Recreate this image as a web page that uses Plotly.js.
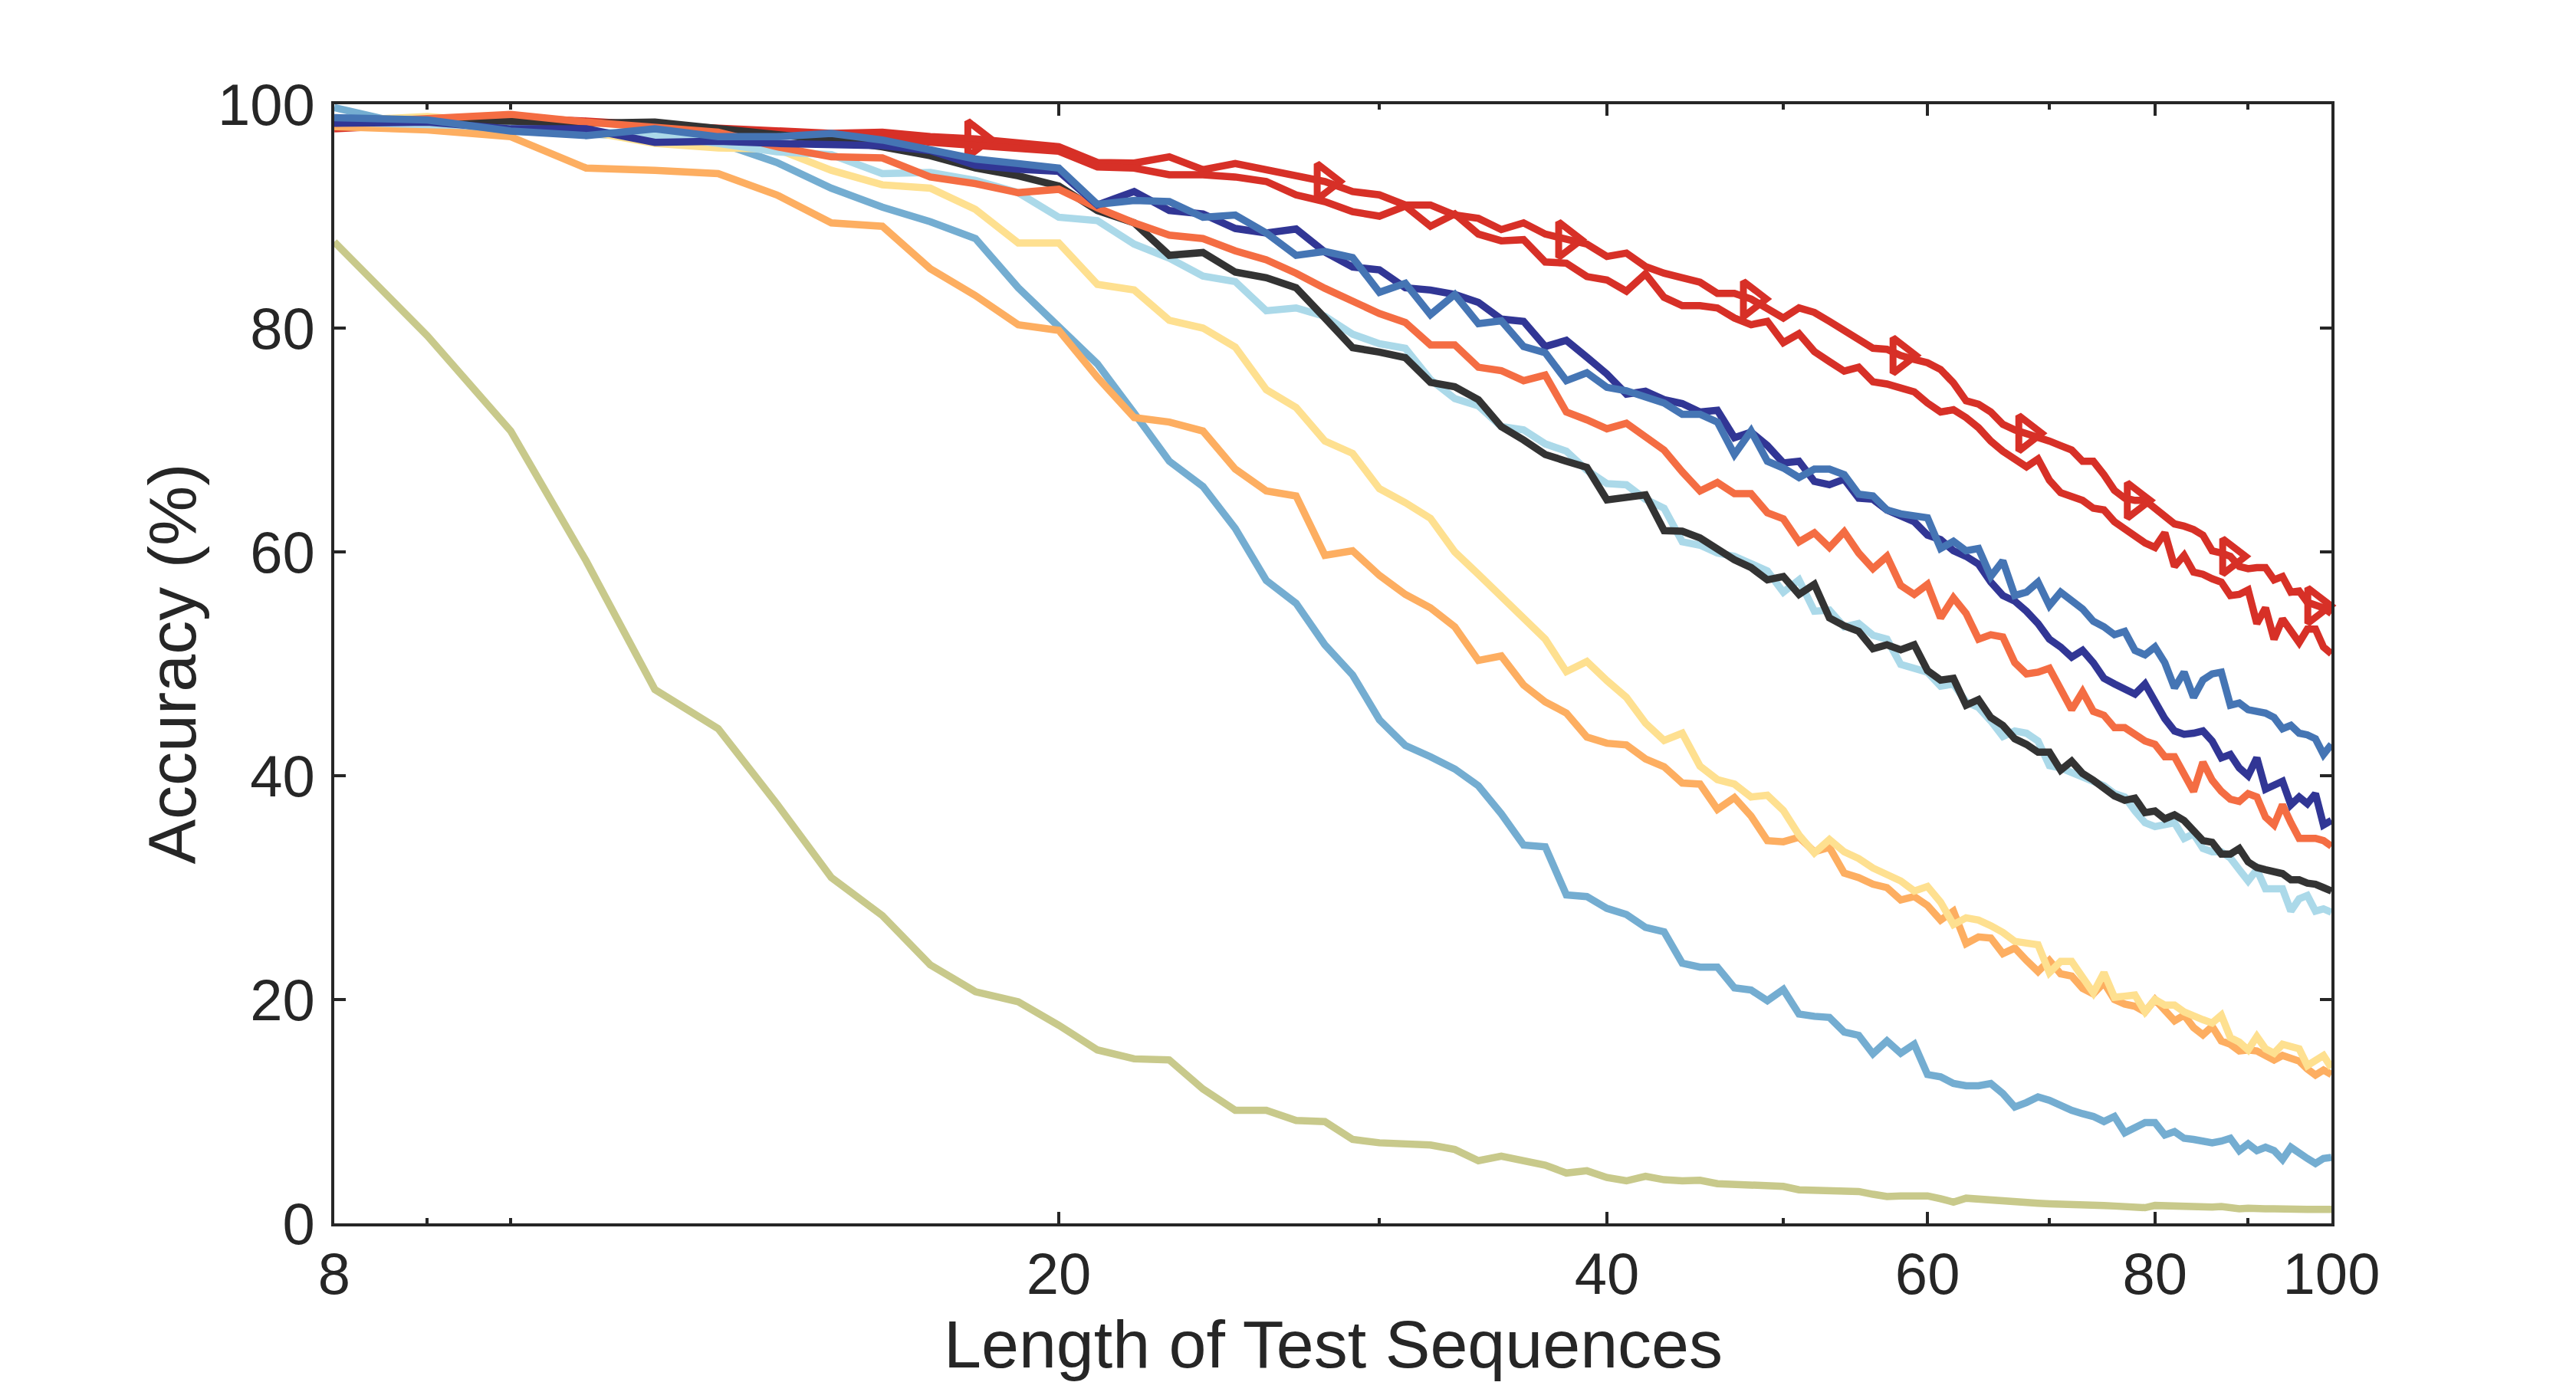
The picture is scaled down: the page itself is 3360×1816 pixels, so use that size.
<!DOCTYPE html>
<html>
<head>
<meta charset="utf-8">
<script src="https://cdn.plot.ly/plotly-3.0.1.min.js"></script>
<style>
  html, body { margin: 0; padding: 0; background: #ffffff; }
  #chart { width: 3360px; height: 1816px; }
</style>
</head>
<body>
<div id="chart"></div>
<script>
/* ─── Accuracy vs. test sequence length ─── */

// sequence lengths (x), one point per integer length
const lengths = [
    8, 9, 10, 11, 12, 13, 14, 15, 16, 17, 18, 19, 20, 21, 22, 23, 24, 25, 26, 27,
    28, 29, 30, 31, 32, 33, 34, 35, 36, 37, 38, 39, 40, 41, 42, 43, 44, 45, 46, 47,
    48, 49, 50, 51, 52, 53, 54, 55, 56, 57, 58, 59, 60, 61, 62, 63, 64, 65, 66, 67,
    68, 69, 70, 71, 72, 73, 74, 75, 76, 77, 78, 79, 80, 81, 82, 83, 84, 85, 86, 87,
    88, 89, 90, 91, 92, 93, 94, 95, 96, 97, 98, 99, 100,
];

// accuracy (%) per series, same order as lengths
const redMarked = [
    97.8, 98.3, 98.6, 98.4, 98.1, 97.9, 97.7, 97.4, 97.5, 97.1, 96.9, 96.6, 96.2, 94.8, 94.75, 95.3, 94.15, 94.7, 94.15, 93.6,
    93.1, 92.2, 91.9, 91.0, 91.0, 90.1, 89.8, 88.8, 89.4, 88.4, 87.9, 87.5, 86.4, 86.7, 85.5, 84.9, 84.5, 84.1, 83.1, 83.1,
    82.6, 81.75, 80.9, 81.8, 81.4, 80.6, 79.8, 79.0, 78.2, 78.1, 77.55, 77.2, 76.9, 76.3, 75.1, 73.5, 73.2, 72.5, 71.4, 70.9,
    70.6, 70.2, 69.9, 69.5, 69.1, 68.1, 68.1, 66.9, 65.5, 64.8, 64.6, 64.6, 63.9, 63.2, 62.5, 62.3, 62.0, 61.5, 60.1, 59.9,
    59.6, 58.7, 58.5, 58.6, 58.6, 57.5, 57.8, 56.4, 56.5, 55.5, 55.2, 55.0, 54.5,
];
const redPlain = [
    98.1, 98.5, 98.8, 98.5, 98.2, 97.8, 97.5, 97.3, 97.0, 96.6, 96.3, 96.1, 95.8, 94.4, 94.3, 93.7, 93.7, 93.5, 93.1, 91.9,
    91.3, 90.4, 90.0, 90.9, 89.1, 90.2, 88.4, 87.8, 87.9, 85.9, 85.8, 84.6, 84.3, 83.3, 84.85, 82.75, 82.0, 82.0, 81.8, 80.9,
    80.3, 80.6, 78.7, 79.5, 77.9, 77.0, 76.15, 76.5, 75.2, 75.0, 74.6, 74.3, 73.3, 72.5, 72.7, 72.0, 71.1, 69.9, 69.0, 68.3,
    67.6, 68.3, 66.4, 65.3, 65.0, 64.6, 63.9, 63.75, 62.7, 62.0, 61.5, 60.8, 60.4, 61.7, 58.7, 59.7, 58.2, 58.0, 57.6, 57.3,
    56.1, 56.2, 56.6, 53.6, 55.0, 52.2, 54.0, 52.9, 51.9, 53.1, 53.1, 51.5, 50.9,
];
const navy = [
    98.3, 98.4, 97.8, 97.8, 96.6, 96.7, 96.5, 96.4, 96.3, 95.85, 94.55, 94.2, 94.0, 91.0, 92.2, 90.5, 90.2, 88.9, 88.5, 88.85,
    86.8, 85.45, 85.2, 83.6, 83.4, 83.0, 82.3, 80.8, 80.6, 78.35, 78.9, 77.4, 75.9, 74.1, 74.35, 73.6, 73.25, 72.5, 72.65, 70.2,
    70.7, 69.5, 67.95, 68.1, 66.3, 66.0, 66.5, 64.8, 64.7, 63.75, 63.2, 62.7, 61.5, 61.1, 60.1, 59.6, 58.9, 57.3, 56.1, 55.6,
    54.7, 53.6, 52.2, 51.5, 50.6, 51.2, 50.1, 48.7, 48.2, 47.7, 47.3, 48.2, 46.6, 45.1, 44.0, 43.7, 43.8, 44.0, 43.1, 41.6,
    41.9, 40.7, 40.0, 41.6, 38.8, 39.1, 39.5, 37.4, 38.1, 37.5, 38.4, 35.6, 36.0,
];
const blue = [
    98.8, 98.6, 97.6, 97.2, 97.8, 97.1, 97.1, 97.4, 96.8, 95.85, 95.1, 94.7, 94.3, 91.05, 91.4, 91.3, 89.9, 90.1, 88.5, 86.5,
    86.85, 86.3, 83.2, 84.0, 81.2, 83.0, 80.4, 80.65, 78.35, 77.8, 75.3, 76.0, 74.7, 74.4, 73.85, 73.3, 72.3, 72.3, 71.6, 68.7,
    70.8, 68.1, 67.5, 66.65, 67.4, 67.4, 66.9, 65.15, 65.0, 63.75, 63.4, 63.2, 63.05, 60.3, 60.95, 60.1, 60.3, 57.8, 59.2, 56.1,
    56.4, 57.3, 55.2, 56.4, 55.7, 54.9, 53.8, 53.3, 52.6, 52.9, 51.2, 50.8, 51.5, 50.1, 47.85, 49.25, 47.0, 48.55, 49.1, 49.25,
    46.3, 46.5, 45.9, 45.8, 45.6, 45.2, 44.2, 44.5, 43.8, 43.65, 43.3, 41.9, 42.8,
];
const orangeRed = [
    98.3, 98.8, 99.1, 98.4, 98.0, 97.5, 96.2, 95.3, 95.2, 93.5, 92.9, 92.1, 92.4, 90.75, 89.4, 88.3, 88.0, 86.9, 86.1, 84.9,
    83.55, 82.45, 81.3, 80.5, 78.5, 78.5, 76.5, 76.2, 75.3, 75.8, 72.5, 71.8, 71.0, 71.5, 70.2, 69.1, 67.15, 65.45, 66.2, 65.2,
    65.2, 63.5, 62.95, 60.9, 61.7, 60.4, 61.8, 59.9, 58.5, 59.6, 57.0, 56.2, 57.1, 54.1, 55.9, 54.5, 52.2, 52.6, 52.4, 50.1,
    49.1, 49.25, 49.6, 47.7, 45.9, 47.5, 45.75, 45.4, 44.3, 44.3, 43.65, 43.1, 42.8, 41.7, 41.7, 40.0, 38.6, 41.2, 39.6, 38.6,
    37.9, 37.7, 38.4, 38.1, 36.3, 35.6, 37.4, 35.8, 34.4, 34.4, 34.4, 34.2, 33.7,
];
const black = [
    98.5, 98.6, 98.5, 98.3, 98.4, 97.8, 97.4, 96.8, 96.2, 95.4, 94.3, 93.6, 92.7, 90.5, 89.4, 86.5, 86.75, 85.0, 84.5, 83.6,
    80.9, 78.25, 77.85, 77.35, 75.15, 74.75, 73.6, 71.2, 70.0, 68.7, 68.1, 67.55, 64.65, 64.8, 65.1, 61.9, 61.85, 61.25, 60.2, 59.3,
    58.6, 57.5, 57.8, 56.2, 57.1, 54.1, 53.4, 52.9, 51.35, 51.7, 51.25, 51.7, 49.4, 48.55, 48.7, 46.3, 46.8, 45.2, 44.5, 43.3,
    42.8, 42.1, 42.1, 40.5, 41.3, 40.2, 39.6, 38.8, 38.2, 37.8, 38.0, 36.7, 36.85, 36.15, 36.5, 36.0, 35.1, 34.2, 34.05, 33.0,
    33.0, 33.5, 32.3, 31.8, 31.6, 31.4, 31.25, 30.7, 30.7, 30.4, 30.3, 30.0, 29.7,
];
const lightBlue = [
    98.4, 98.2, 98.0, 97.6, 97.2, 96.5, 95.75, 95.5, 93.8, 93.9, 93.2, 92.1, 89.9, 89.6, 87.5, 86.25, 84.65, 84.15, 81.55, 81.8,
    81.05, 79.45, 78.6, 78.2, 75.4, 73.7, 73.05, 71.2, 70.9, 69.65, 69.0, 67.3, 66.1, 66.0, 64.7, 63.9, 60.9, 60.6, 59.9, 59.6,
    59.0, 58.3, 56.4, 57.5, 54.7, 54.8, 53.3, 53.6, 52.55, 52.2, 49.95, 49.6, 49.25, 48.0, 48.2, 46.6, 46.1, 44.9, 43.5, 44.0,
    43.8, 43.1, 40.9, 40.7, 40.3, 39.8, 39.5, 39.1, 38.4, 38.1, 36.85, 35.8, 35.45, 35.6, 35.8, 34.4, 34.8, 33.5, 33.2, 33.2,
    32.65, 31.6, 30.6, 31.6, 29.9, 29.9, 29.9, 27.9, 29.0, 29.3, 27.9, 28.1, 27.8,
];
const yellow = [
    98.5, 98.9, 98.3, 97.6, 96.5, 96.1, 96.0, 94.1, 92.8, 92.5, 90.6, 87.6, 87.6, 83.9, 83.4, 80.7, 80.0, 78.3, 74.5, 72.9,
    69.9, 68.8, 65.65, 64.4, 63.0, 60.0, 58.0, 56.0, 54.2, 52.2, 49.3, 50.2, 48.5, 47.0, 44.7, 43.15, 43.8, 40.85, 39.65, 39.25,
    38.1, 38.25, 36.9, 34.7, 33.1, 34.3, 33.2, 32.6, 31.75, 31.1, 30.6, 29.7, 30.1, 28.7, 26.7, 27.3, 27.1, 26.6, 26.0, 25.2,
    25.0, 24.9, 22.4, 23.4, 23.4, 21.9, 20.6, 22.4, 20.2, 20.3, 20.4, 18.9, 20.0, 19.5, 19.5, 18.9, 18.5, 18.2, 17.9, 18.6,
    16.6, 16.2, 15.5, 16.7, 15.6, 15.2, 16.0, 15.8, 15.6, 14.1, 14.6, 15.0, 13.9,
];
const orange = [
    98.0, 97.7, 97.1, 94.3, 94.1, 93.8, 91.9, 89.4, 89.1, 85.3, 82.9, 80.3, 79.8, 75.6, 72.0, 71.6, 70.8, 67.4, 65.45, 65.0,
    59.7, 60.1, 57.9, 56.2, 55.0, 53.3, 50.3, 50.7, 48.1, 46.6, 45.6, 43.45, 42.9, 42.75, 41.5, 40.8, 39.35, 39.25, 37.0, 38.05,
    36.4, 34.2, 34.1, 34.5, 33.2, 33.6, 31.3, 30.9, 30.3, 30.0, 28.9, 29.2, 28.4, 27.1, 27.9, 25.0, 25.6, 25.5, 24.1, 24.6,
    23.5, 22.5, 23.5, 22.3, 22.1, 21.0, 20.5, 21.5, 20.0, 19.6, 19.4, 18.9, 20.0, 19.0, 18.1, 18.6, 17.5, 16.85, 17.6, 16.3,
    16.0, 15.4, 15.5, 15.4, 15.0, 14.6, 15.0, 14.7, 14.5, 13.8, 13.25, 13.7, 13.3,
];
const steelBlue = [
    99.7, 97.8, 97.6, 97.3, 97.1, 96.6, 94.8, 92.5, 90.8, 89.5, 88.0, 83.6, 80.2, 76.8, 72.4, 68.1, 65.85, 62.1, 57.45, 55.4,
    51.7, 49.0, 45.0, 42.7, 41.7, 40.6, 39.1, 36.6, 33.8, 33.65, 29.35, 29.2, 28.15, 27.6, 26.45, 26.05, 23.25, 22.9, 22.9, 21.05,
    20.85, 19.9, 20.9, 18.7, 18.5, 18.4, 17.1, 16.8, 15.15, 16.3, 15.2, 16.0, 13.3, 13.1, 12.5, 12.3, 12.3, 12.5, 11.6, 10.4,
    10.8, 11.3, 11.0, 10.5, 10.1, 9.8, 9.55, 9.1, 9.55, 8.1, 8.6, 9.0, 9.0, 7.9, 8.2, 7.6, 7.5, 7.3, 7.2, 7.35,
    7.6, 6.5, 7.1, 6.5, 6.8, 6.5, 5.7, 6.8, 6.2, 5.8, 5.35, 5.8, 5.9,
];
const olive = [
    87.7, 79.3, 70.8, 59.2, 47.7, 44.2, 37.5, 30.9, 27.5, 23.1, 20.7, 19.8, 17.7, 15.5, 14.7, 14.6, 12.0, 10.1, 10.1, 9.2,
    9.1, 7.5, 7.2, 7.1, 7.0, 6.6, 5.6, 6.0, 5.6, 5.2, 4.5, 4.7, 4.1, 3.8, 4.2, 3.9, 3.8, 3.85, 3.55, 3.5,
    3.4, 3.5, 3.3, 3.0, 3.0, 3.0, 2.95, 2.85, 2.6, 2.4, 2.45, 2.4, 2.45, 2.2, 1.9, 2.25, 2.15, 2.1, 2.05, 1.9,
    1.9, 1.8, 1.75, 1.75, 1.75, 1.75, 1.65, 1.6, 1.55, 1.55, 1.55, 1.4, 1.6, 1.55, 1.55, 1.5, 1.5, 1.45, 1.45, 1.5,
    1.35, 1.3, 1.35, 1.4, 1.3, 1.3, 1.25, 1.25, 1.25, 1.25, 1.25, 1.25, 1.25,
];

// lengths that carry a marker on the marked red curve
const markerLengths = [8, 18, 28, 38, 48, 58, 68, 78, 88, 98];

const xTickVals = [8, 20, 40, 60, 80, 100];
const xMinorVals = [9, 10, 30, 50, 70, 90];
const yTickVals = [0, 20, 40, 60, 80, 100];

const AXIS_COLOR = '#262626';
const RED = '#D73027';
const FONT = '"Liberation Sans", Arial, Helvetica, sans-serif';

function lineTrace(y, color, name) {
    return {
        x: lengths,
        y: y,
        type: 'scatter',
        mode: 'lines',
        name: name,
        line: { color: color, width: 9.5 },
        cliponaxis: false,
        hoverinfo: 'skip',
    };
}

// markers for the marked red curve, picked from its own points
const markIdx = lengths.map((l, i) => markerLengths.includes(l) ? i : -1).filter(i => i >= 0);
const markerTrace = {
    x: markIdx.map(i => lengths[i]),
    y: markIdx.map(i => redMarked[i]),
    type: 'scatter',
    mode: 'markers',
    name: 'red markers',
    cliponaxis: false,
    hoverinfo: 'skip',
    marker: {
        symbol: 'triangle-right',
        size: 40,
        opacity: 1,
        color: 'rgba(215,48,39,0)',
        line: { color: RED, width: 9 },
    },
};

// matlab-style draw order: first plotted sits underneath
const traces = [
    lineTrace(redMarked, RED, 'red (marked)'),
    markerTrace,
    lineTrace(redPlain, RED, 'red'),
    lineTrace(olive, '#C8C98B', 'olive'),
    lineTrace(steelBlue, '#74ADD1', 'steel blue'),
    lineTrace(orange, '#FDAE61', 'orange'),
    lineTrace(yellow, '#FEE090', 'yellow'),
    lineTrace(lightBlue, '#ABD9E9', 'light blue'),
    lineTrace(black, '#333333', 'black'),
    lineTrace(orangeRed, '#F46D43', 'orange red'),
    lineTrace(navy, '#313695', 'navy'),
    lineTrace(blue, '#4575B4', 'blue'),
];

const layout = {
    width: 3360,
    height: 1816,
    paper_bgcolor: '#ffffff',
    plot_bgcolor: '#ffffff',
    showlegend: false,
    margin: { l: 436, r: 319, t: 136, b: 220, pad: 0 },
    font: { family: FONT, color: AXIS_COLOR, size: 76 },
    xaxis: {
        type: 'log',
        range: [Math.log10(8), 2],
        tickmode: 'array',
        tickvals: xTickVals,
        ticktext: xTickVals.map(String),
        ticks: 'inside',
        ticklen: 15,
        tickwidth: 4,
        tickcolor: AXIS_COLOR,
        minor: {
            tickmode: 'array',
            tickvals: xMinorVals,
            ticks: 'inside',
            ticklen: 7,
            tickwidth: 4,
            tickcolor: AXIS_COLOR,
            showgrid: false,
        },
        showline: true,
        linecolor: AXIS_COLOR,
        linewidth: 4,
        mirror: 'ticks',
        showgrid: false,
        zeroline: false,
        tickfont: { family: FONT, size: 76, color: AXIS_COLOR },
        ticklabelstandoff: -3,
    },
    yaxis: {
        range: [0, 100],
        tickmode: 'array',
        tickvals: yTickVals,
        ticks: 'inside',
        ticklen: 15,
        tickwidth: 4,
        tickcolor: AXIS_COLOR,
        showline: true,
        linecolor: AXIS_COLOR,
        linewidth: 4,
        mirror: 'ticks',
        showgrid: false,
        zeroline: false,
        tickfont: { family: FONT, size: 76, color: AXIS_COLOR },
        ticklabelstandoff: 6,
        title: {
            text: 'Accuracy (%)',
            font: { family: FONT, size: 88, color: AXIS_COLOR },
            standoff: 0,
        },
    },
    // x title placed by hand, lower than an axis title can sit in this margin
    annotations: [{
        text: 'Length of Test Sequences',
        xref: 'paper', yref: 'paper',
        x: 0.5, y: -0.108,
        xanchor: 'center', yanchor: 'middle',
        showarrow: false,
        font: { family: FONT, size: 88, color: AXIS_COLOR },
    }],
};

Plotly.newPlot('chart', traces, layout, { staticPlot: true, displayModeBar: false });
</script>
</body>
</html>
